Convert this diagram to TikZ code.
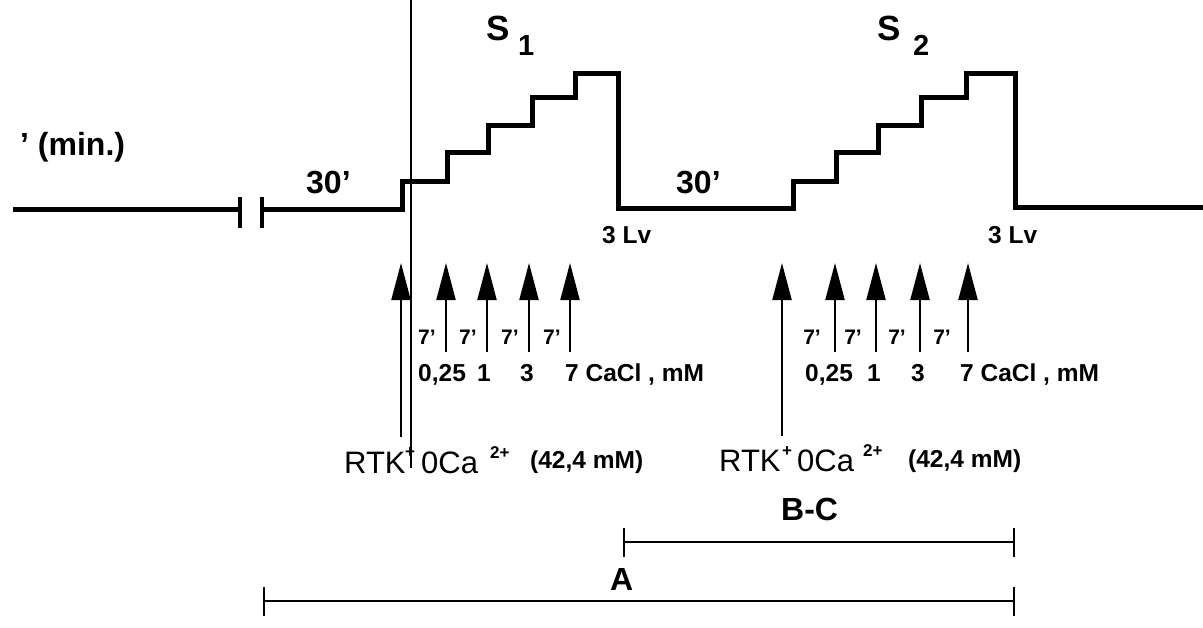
\documentclass[tikz,border=0pt]{standalone}
\usepackage{fontspec}
\setmainfont{Liberation Sans}
\usetikzlibrary{arrows.meta}
\begin{document}
\begin{tikzpicture}[x=1pt,y=-1pt,
  trace/.style={line width=5pt, line join=miter},
  gaptick/.style={line width=3.5pt},
  thinline/.style={line width=2pt},
  uparrow/.style={line width=2.2pt, -{Triangle[length=37pt,width=19pt]}},
  txt/.style={inner sep=0pt, anchor=base west},
  bigb/.style={txt, font=\fontsize{32}{34}\selectfont\bfseries},
  midb/.style={txt, font=\fontsize{24.5}{28}\selectfont\bfseries},
  smallb/.style={inner sep=0pt, anchor=base, font=\fontsize{21}{22}\selectfont\bfseries},
  rtk/.style={txt, font=\fontsize{31}{36}\selectfont},
  supb/.style={txt, font=\fontsize{17}{18}\selectfont\bfseries},
  bracket/.style={line width=2pt}
]
\useasboundingbox (0,0) rectangle (1203,627);

% ---- trace ----
\draw[trace] (13,209) -- (240,209);
\draw[gaptick] (240,197) -- (240,228);
\draw[gaptick] (262,197) -- (262,228);
\draw[trace] (262,209) -- (402,209) -- (402,181) -- (447,181) -- (447,152)
  -- (488,152) -- (488,125) -- (532,125) -- (532,97) -- (575,97) -- (575,73)
  -- (618,73) -- (618,208) -- (793,208) -- (793,181) -- (836,181) -- (836,152)
  -- (878,152) -- (878,125) -- (921,125) -- (921,97) -- (966,97) -- (966,73)
  -- (1015,73) -- (1015,207) -- (1203,207);

% ---- tall vertical line ----
\coordinate (vtop) at (411,0);
\coordinate (vbot) at (411,468);
\draw[thinline] (vtop) -- (vbot);

% ---- labels on top ----
\node[txt, font=\fontsize{32}{36}\selectfont\bfseries] (minlab) at (20,155) {' (min.)};
\node[bigb] (t30a) at (306,193) {30'};
\node[bigb] (t30b) at (676,193) {30'};
\node[txt, font=\fontsize{35}{38}\selectfont\bfseries] (s1) at (486,40) {S};
\node[txt, font=\fontsize{29}{32}\selectfont\bfseries] (s1i) at (518,55) {1};
\node[txt, font=\fontsize{35}{38}\selectfont\bfseries] (s2) at (877,40) {S};
\node[txt, font=\fontsize{29}{32}\selectfont\bfseries] (s2i) at (913,55) {2};
\node[midb] (lv1) at (602,243) {3 Lv};
\node[midb] (lv2) at (988,243) {3 Lv};

% ---- arrows ----
\foreach \n/\x in {b1/401, c1/446, c2/487, c3/529, c4/570,
                   b2/782, d1/835, d2/876, d3/920, d4/968}{
  \coordinate (\n top) at (\x,263);
}
\coordinate (b1bot) at (401,437);
\coordinate (b2bot) at (782,436);
\foreach \n/\x in {c1/446, c2/487, c3/529, c4/570, d1/835, d2/876, d3/920, d4/968}{
  \coordinate (\n bot) at (\x,352);
}
\foreach \n in {b1,c1,c2,c3,c4,b2,d1,d2,d3,d4}{
  \draw[uparrow] (\n bot) -- (\n top);
}

% ---- 7' labels ----
\foreach \n/\x in {sa1/427, sa2/468, sa3/510, sa4/552, sb1/812, sb2/853, sb3/897, sb4/942}{
  \node[smallb] (\n) at (\x,344) {7'};
}

% ---- concentration rows ----
\node[midb] (q1a) at (418,381) {0,25};
\node[midb] (q1b) at (477,381) {1};
\node[midb] (q1c) at (520,381) {3};
\node[midb] (q1d) at (565,381) {7 CaCl , mM};
\node[midb] (q2a) at (805,381) {0,25};
\node[midb] (q2b) at (867,381) {1};
\node[midb] (q2c) at (911,381) {3};
\node[midb] (q2d) at (960,381) {7 CaCl , mM};

% ---- RTK labels ----
\node[rtk] (rtk1) at (344,473) {RTK};
\node[supb] (rtk1p) at (405,457) {+};
\node[rtk] (ca1) at (421,473) {0Ca};
\node[supb] (ca1s) at (490,458) {2+};
\node[midb] (mm1) at (530,468) {(42,4 mM)};
\node[rtk] (rtk2) at (719,471) {RTK};
\node[supb] (rtk2p) at (782,456) {+};
\node[rtk] (ca2) at (797,471) {0Ca};
\node[supb] (ca2s) at (863,456) {2+};
\node[midb] (mm2) at (908,467) {(42,4 mM)};

% ---- brackets ----
\node[bigb] (bc) at (781,520) {B-C};
\coordinate (bcl) at (624,542);
\coordinate (bcr) at (1014,542);
\draw[bracket] (bcl) -- (bcr);
\draw[bracket] ([yshift=-15pt]bcl) -- ([yshift=14pt]bcl);
\draw[bracket] ([yshift=-15pt]bcr) -- ([yshift=14pt]bcr);

\node[bigb] (alab) at (610,590) {A};
\coordinate (al) at (264,601);
\coordinate (ar) at (1014,601);
\draw[bracket] (al) -- (ar);
\draw[bracket] ([yshift=-15pt]al) -- ([yshift=14pt]al);
\draw[bracket] ([yshift=-15pt]ar) -- ([yshift=14pt]ar);
\end{tikzpicture}
\end{document}
